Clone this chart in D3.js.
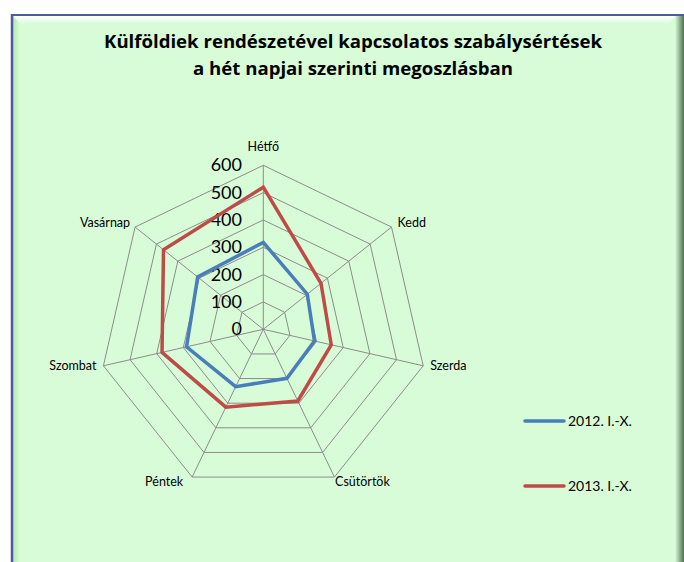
<!DOCTYPE html>
<html><head><meta charset="utf-8">
<script src="https://cdn.jsdelivr.net/npm/d3@7"></script>
<style>body{margin:0;background:#fff}svg{display:block}</style>
</head><body>
<script>
const days = ["Hétfő","Kedd","Szerda","Csütörtök","Péntek","Szombat","Vasárnap"];
const series2012 = [318, 206, 192, 199, 233, 288, 307];
const series2013 = [520, 270, 255, 291, 316, 380, 467];
const seriesNames = ["2012. I.-X.","2013. I.-X."];
const ticks = [0,100,200,300,400,500,600];
const titleLines = ["Külföldiek rendészetével kapcsolatos szabálysértések","a hét napjai szerinti megoszlásban"];

const W=684,H=562;
const svg=d3.select("body").append("svg").attr("width",W).attr("height",H);
const defs=svg.append("defs");
const gTop=defs.append("linearGradient").attr("id","gtop").attr("x1",0).attr("y1",0).attr("x2",0).attr("y2",1);
gTop.append("stop").attr("offset",0).attr("stop-color","#ffffff");
gTop.append("stop").attr("offset",1).attr("stop-color","#d8fcd8");
const gLeft=defs.append("linearGradient").attr("id","gleft").attr("x1",0).attr("y1",0).attr("x2",1).attr("y2",0);
gLeft.append("stop").attr("offset",0).attr("stop-color","#b4e6b4");
gLeft.append("stop").attr("offset",1).attr("stop-color","#d8fcd8");
const gRight=defs.append("linearGradient").attr("id","gright").attr("x1",0).attr("y1",0).attr("x2",1).attr("y2",0);
gRight.append("stop").attr("offset",0).attr("stop-color","#d8fcd8");
gRight.append("stop").attr("offset",1).attr("stop-color","#4f6f4f");

// frame
svg.append("rect").attr("x",12).attr("y",15).attr("width",W-12).attr("height",H-15).attr("fill","#d8fcd8");
svg.append("path").attr("d",`M13,16 L${W-8},16 L${W-16},24 L20,24 Z`).attr("fill","url(#gtop)");
svg.append("path").attr("d",`M13,16 L20,24 L20,${H} L13,${H} Z`).attr("fill","url(#gleft)");
svg.append("path").attr("d",`M${W-9},16 L${W},16 L${W},${H} L${W-9},${H} L${W-9},24 Z`).attr("fill","url(#gright)");
svg.append("line").attr("x1",11).attr("x2",W).attr("y1",15).attr("y2",15).attr("stroke","#4f5b9c").attr("stroke-width",2);
svg.append("line").attr("x1",12).attr("x2",12).attr("y1",14).attr("y2",H).attr("stroke","#4f5b9c").attr("stroke-width",2.5);

// title
svg.append("g").selectAll("text").data(titleLines).join("text")
  .attr("x",353).attr("y",(d,i)=>48+i*27).attr("text-anchor","middle")
  .attr("font-family","'Open Sans', sans-serif").attr("font-weight","bold")
  .attr("font-size",18.6).attr("fill","#000").text(d=>d);

const cx=263.3, cy=329.3, R=164;
const r=d3.scaleLinear().domain([0,600]).range([0,R]);
const ang=d3.scalePoint().domain(days).range([0,2*Math.PI*(days.length-1)/days.length]);
const pt=(day,v)=>{const a=ang(day);return [cx+r(v)*Math.sin(a), cy-r(v)*Math.cos(a)];};

const g=svg.append("g");
// grid polygons
ticks.slice(1).forEach(t=>{
  g.append("path").attr("d",d3.line()(days.map(d=>pt(d,t)))+"Z")
   .attr("fill","none").attr("stroke","#8c8c8c").attr("stroke-width",1);
});
days.forEach(d=>{
  const [x,y]=pt(d,600);
  g.append("line").attr("x1",cx).attr("y1",cy).attr("x2",x).attr("y2",y).attr("stroke","#8c8c8c").attr("stroke-width",1);
});
// tick labels
g.selectAll("text.tick").data(ticks).join("text").attr("class","tick")
  .attr("x",242).attr("y",t=>cy-r(t)+6).attr("text-anchor","end")
  .attr("font-family","Lato, 'Open Sans', sans-serif").attr("font-size",18).attr("fill","#000").text(t=>t);

// series
const colors=["#4a7ebb","#be4b48"];
[series2012,series2013].forEach((s,i)=>{
  g.append("path").attr("d",d3.line()(days.map((d,j)=>pt(d,s[j])))+"Z")
   .attr("fill","none").attr("stroke",colors[i]).attr("stroke-width",3.5).attr("stroke-linejoin","miter");
});

// category labels
const lab={ "Hétfő":[0,-14,"middle"], "Kedd":[6,0,"start"], "Szerda":[7,4,"start"], "Csütörtök":[28,9,"middle"],
  "Péntek":[-28,9,"middle"], "Szombat":[-7,4,"end"], "Vasárnap":[-5,0,"end"] };
days.forEach(d=>{
  const [x,y]=pt(d,600); const o=lab[d];
  g.append("text").attr("x",x+o[0]).attr("y",y+o[1]).attr("text-anchor",o[2])
   .attr("font-family","Lato, 'Open Sans', sans-serif").attr("font-size",12.5).attr("fill","#000").text(d);
});

// legend
const lg=svg.append("g");
seriesNames.forEach((n,i)=>{
  const y=421+i*65;
  lg.append("line").attr("x1",525).attr("x2",564).attr("y1",y).attr("y2",y).attr("stroke",colors[i]).attr("stroke-width",3.5).attr("stroke-linecap","round");
  lg.append("text").attr("x",568).attr("y",y+5).attr("font-family","Lato, 'Open Sans', sans-serif").attr("font-size",14).attr("fill","#000").text(n);
});
</script>
</body></html>
